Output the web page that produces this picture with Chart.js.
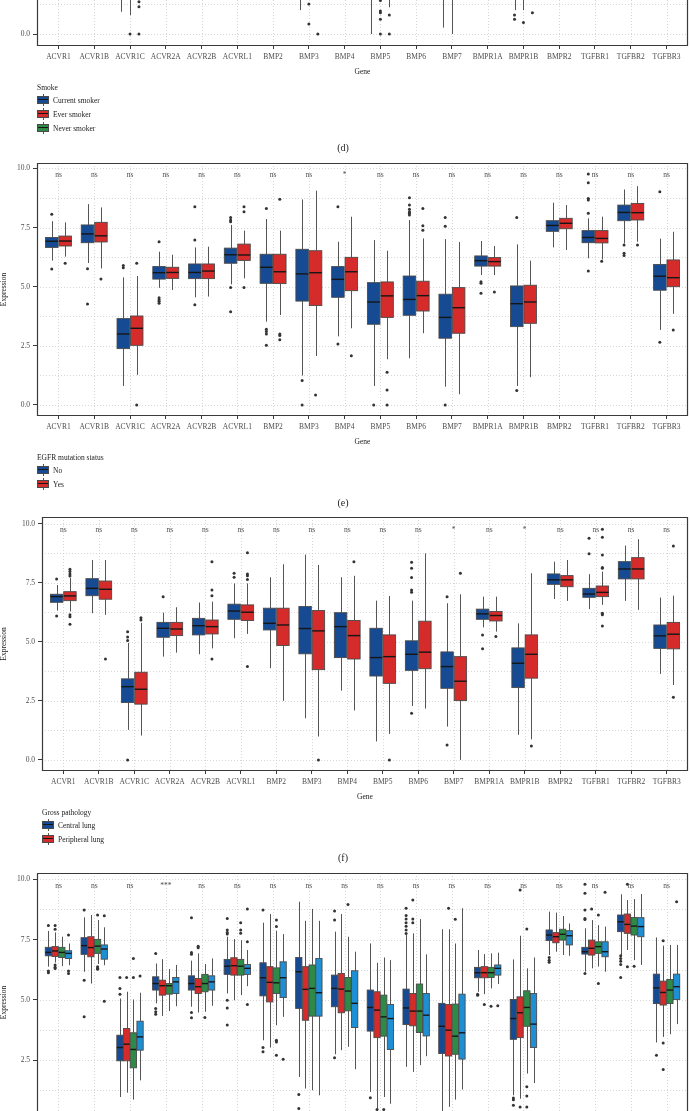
<!DOCTYPE html>
<html>
<head>
<meta charset="utf-8">
<script src="https://cdn.jsdelivr.net/npm/chart.js@4.4.0/dist/chart.umd.min.js"></script>
<style>
  html, body { margin: 0; padding: 0; background: #fff; overflow: hidden; }
  body { width: 690px; height: 1111px; position: relative; font-family: "Liberation Serif", "Times New Roman", serif; color: #222; }
  canvas { position: absolute; left: 0; }
  .txt { position: absolute; font-size: 7.5px; line-height: 9px; white-space: nowrap; transform: translateY(-50%); filter: grayscale(1); }
  .lab { position: absolute; font-size: 10px; line-height: 12px; transform: translate(-50%, -50%); filter: grayscale(1); }
  .key { position: absolute; width: 12px; height: 12px; transform: translateY(-50%); }
  .key .wh { position: absolute; left: 5.5px; top: 0; width: 1px; height: 12px; background: #555; }
  .key .bx { position: absolute; left: 0; top: 2px; width: 10px; height: 6px; border: 1px solid #4a4a4a; }
  .key .md { position: absolute; left: 1px; top: 5px; width: 10px; height: 1.4px; background: #161616; }
</style>
</head>
<body>
<canvas id="panelD" width="690" height="87" style="top:-10px"></canvas>
<canvas id="panelE" width="690" height="294" style="top:153px"></canvas>
<canvas id="panelF" width="690" height="295" style="top:507px"></canvas>
<canvas id="panelG" width="690" height="300" style="top:863px"></canvas>
<script>
const genes = ["ACVR1", "ACVR1B", "ACVR1C", "ACVR2A", "ACVR2B", "ACVRL1", "BMP2", "BMP3", "BMP4",
  "BMP5", "BMP6", "BMP7", "BMPR1A", "BMPR1B", "BMPR2", "TGFBR1", "TGFBR2", "TGFBR3"];
const yTickValues = [0, 2.5, 5, 7.5, 10];
const yMinorValues = [1.25, 3.75, 6.25, 8.75];

// (d) smoke - only the bottom of this panel is inside the picture
const dCurrentLow = [null, null, 0.94, null, null, null, null, 1.01, null, 0.0, null, 0.27, null, 1.01, null, null, null, null];
const dEverLow = [null, null, 0.8, null, null, null, null, null, null, null, null, 0.0, null, 1.01, null, null, null, null];
const dNeverLow = [null, null, null, null, null, null, null, null, null, 1.13, null, null, null, null, null, null, null, null];
const dCurrentOut = [[], [], [], [], [], [], [], [], [], [], [], [], [], [0.8, 0.62], [], [], [], []];
const dEverOut = [[], [], [0.0], [], [], [], [], [1.27, 0.42], [], [1.42, 0.97, 0.9, 0.62, 0.0], [], [], [], [0.49], [], [], [], []];
const dNeverOut = [[], [], [1.36, 1.15, 0.0], [], [], [], [], [0.0], [], [0.8, 0.0], [], [], [], [0.9], [], [], [], []];

// (e) EGFR mutation status: [low whisker, q1, median, q3, high whisker]
const eNo = [
  [6.1, 6.66, 6.92, 7.08, 7.77], [6.0, 6.86, 7.23, 7.61, 8.49], [0.8, 2.38, 3.0, 3.65, 5.39],
  [4.95, 5.32, 5.59, 5.85, 6.48], [4.55, 5.34, 5.6, 5.96, 6.66], [5.1, 5.99, 6.35, 6.63, 7.61],
  [3.52, 5.14, 5.82, 6.37, 7.86], [1.24, 4.39, 5.54, 6.58, 8.69], [2.9, 4.55, 5.31, 5.85, 6.9],
  [0.8, 3.41, 4.35, 5.17, 6.97], [1.97, 3.79, 4.46, 5.45, 7.82], [0.77, 2.82, 3.7, 4.68, 7.01],
  [5.49, 5.87, 6.1, 6.3, 6.93], [0.8, 3.31, 4.28, 5.03, 6.79], [6.66, 7.34, 7.59, 7.79, 8.55],
  [6.2, 6.86, 7.08, 7.37, 7.89], [6.83, 7.79, 8.14, 8.45, 9.11], [3.17, 4.85, 5.44, 5.94, 7.03]
];
const eYes = [
  [6.27, 6.72, 6.93, 7.14, 7.72], [5.77, 6.89, 7.15, 7.72, 8.35], [1.27, 2.52, 3.24, 3.76, 5.45],
  [4.86, 5.35, 5.6, 5.82, 6.35], [4.58, 5.34, 5.66, 5.96, 6.69], [5.35, 6.11, 6.34, 6.8, 7.37],
  [3.8, 5.13, 5.63, 6.37, 7.37], [2.07, 4.2, 5.59, 6.52, 9.06], [3.24, 4.83, 5.63, 6.24, 7.96],
  [1.93, 3.7, 4.61, 5.2, 6.52], [3.03, 3.97, 4.62, 5.23, 7.04], [0.45, 3.03, 4.11, 4.96, 6.89],
  [5.49, 5.87, 6.06, 6.23, 6.72], [1.17, 3.45, 4.35, 5.06, 6.1], [6.55, 7.45, 7.68, 7.89, 8.45],
  [6.15, 6.85, 7.04, 7.37, 7.96], [6.9, 7.82, 8.13, 8.52, 9.25], [3.85, 5.0, 5.38, 6.13, 7.32]
];
const eNoOut = [[8.06, 5.75], [5.76, 4.27], [5.8, 5.9], [6.9, 4.53, 4.45, 4.38, 4.3], [8.38, 6.97, 4.24],
  [7.92, 7.82, 7.75, 4.96, 3.94], [8.31, 3.2, 3.1, 3.0, 2.52], [1.03, 0.0], [8.38, 2.58], [0.0],
  [8.76, 8.45, 8.27, 8.17, 8.1, 8.03], [7.93, 7.56, 0.0], [5.21, 5.14, 4.72], [7.92, 0.61], [],
  [9.76, 9.39, 8.73, 8.66, 8.1, 5.66], [6.76, 6.41, 6.32], [9.01, 2.65]];
const eYesOut = [[5.99], [5.32], [5.99, 0.0], [], [], [8.38, 8.17, 4.96], [8.7, 3.0, 2.93, 2.75], [0.42],
  [2.08], [1.38, 0.63, 0.0], [8.31, 7.58, 7.39], [], [4.77], [], [], [6.07], [6.76], [3.17]];
const eSig = ["ns", "ns", "ns", "ns", "ns", "ns", "ns", "ns", "*", "ns", "ns", "ns", "ns", "ns", "ns", "ns", "ns", "ns"];

// (f) gross pathology
const fCentral = [
  [6.32, 6.67, 6.91, 7.01, 7.4], [6.21, 6.95, 7.26, 7.67, 8.46], [1.27, 2.43, 3.1, 3.43, 4.95],
  [4.37, 5.19, 5.57, 5.82, 6.23], [4.47, 5.29, 5.68, 5.99, 6.66], [5.15, 5.95, 6.3, 6.59, 7.47],
  [3.88, 5.5, 5.78, 6.42, 7.73], [1.76, 4.49, 5.56, 6.49, 8.69], [2.93, 4.33, 5.64, 6.23, 7.73],
  [0.78, 3.55, 4.33, 5.57, 6.74], [2.28, 3.79, 4.47, 5.04, 6.74], [1.41, 3.03, 3.95, 4.57, 6.63],
  [5.61, 5.95, 6.18, 6.38, 6.91], [1.06, 3.06, 4.09, 4.74, 5.78], [6.81, 7.43, 7.62, 7.87, 8.39],
  [6.38, 6.88, 7.02, 7.26, 7.86], [6.73, 7.66, 8.08, 8.39, 9.07], [3.64, 4.72, 5.25, 5.71, 6.87]
];
const fPeripheral = [
  [6.28, 6.74, 6.94, 7.12, 7.7], [6.14, 6.8, 7.22, 7.57, 8.46], [1.03, 2.36, 2.99, 3.71, 5.8],
  [4.54, 5.26, 5.54, 5.82, 6.46], [4.72, 5.33, 5.64, 5.92, 6.7], [5.33, 5.9, 6.25, 6.56, 7.47],
  [2.5, 4.84, 5.71, 6.42, 8.28], [0.99, 3.82, 5.46, 6.32, 8.25], [2.09, 4.27, 5.26, 5.9, 7.79],
  [1.1, 3.24, 4.37, 5.29, 6.94], [2.17, 3.86, 4.56, 5.87, 8.74], [0.0, 2.51, 3.33, 4.37, 7.01],
  [5.43, 5.88, 6.11, 6.28, 6.91], [0.87, 3.46, 4.47, 5.29, 7.9], [6.73, 7.33, 7.62, 7.8, 8.46],
  [6.56, 6.91, 7.09, 7.36, 7.97], [6.35, 7.66, 8.08, 8.56, 9.34], [3.17, 4.7, 5.32, 5.82, 6.95]
];
const fCentralOut = [[7.66, 6.09], [], [5.42, 5.2, 5.05, 0.0], [6.91], [], [7.9, 7.73], [], [], [], [],
  [8.36, 8.11, 7.72, 7.19, 7.09, 1.97], [6.91, 0.63], [5.29, 4.7], [], [], [9.38, 8.72], [], []];
const fPeripheralOut = [[8.07, 7.97, 7.87, 7.78, 6.14, 6.06, 5.74], [4.27], [6.02, 5.92], [],
  [8.39, 7.19, 6.95, 4.27], [8.77, 7.87, 7.79, 7.64, 3.95], [], [0.0], [8.39], [0.0], [], [7.9], [5.22],
  [0.59], [], [9.76, 9.42, 8.67, 8.14, 8.11, 6.21, 6.14, 5.67], [], [9.05, 2.65]];
const fSig = ["ns", "ns", "ns", "ns", "ns", "ns", "ns", "ns", "ns", "ns", "ns", "*", "ns", "*", "ns", "ns", "ns", "ns"];

// (g) four groups, legend lies below the picture
const gGroup1 = [
  [6.38, 6.83, 6.97, 7.18, 7.86], [6.17, 6.89, 7.25, 7.58, 8.42], [0.98, 2.48, 3.03, 3.54, 5.06],
  [4.86, 5.41, 5.68, 5.96, 6.51], [4.72, 5.41, 5.68, 6.0, 6.63], [5.27, 6.06, 6.4, 6.68, 7.62],
  [3.33, 5.17, 5.92, 6.54, 8.2], [1.81, 4.65, 6.17, 6.76, 9.07], [2.75, 4.72, 5.48, 6.03, 7.83],
  [1.19, 3.71, 4.69, 5.41, 7.34], [2.23, 3.98, 4.67, 5.45, 7.69], [0.3, 2.78, 3.91, 4.86, 7.93],
  [5.34, 5.92, 6.13, 6.35, 7.07], [1.05, 3.37, 4.23, 5.02, 6.68], [6.86, 7.46, 7.69, 7.9, 8.66],
  [6.17, 6.9, 7.0, 7.18, 7.97], [6.86, 7.83, 8.24, 8.52, 9.38], [3.24, 4.85, 5.5, 6.07, 7.59]
];
const gGroup2 = [
  [6.55, 6.8, 7.03, 7.21, 7.8], [5.68, 6.79, 7.17, 7.62, 8.52], [1.16, 2.48, 3.17, 3.82, 5.34],
  [4.34, 5.2, 5.59, 5.82, 6.69], [4.48, 5.27, 5.55, 5.89, 6.93], [4.99, 6.03, 6.42, 6.75, 7.52],
  [3.03, 4.92, 5.73, 6.38, 8.56], [1.33, 4.16, 5.44, 6.38, 8.28], [2.92, 4.47, 5.45, 6.1, 8.56],
  [0.05, 3.44, 4.58, 5.34, 6.54], [2.02, 3.93, 4.54, 5.27, 7.76], [0.57, 2.68, 3.75, 4.81, 7.93],
  [5.24, 5.92, 6.13, 6.38, 6.9], [0.91, 3.44, 4.47, 5.13, 7.66], [7.0, 7.37, 7.62, 7.79, 8.62],
  [6.31, 6.86, 7.14, 7.48, 8.31], [7.07, 7.76, 8.13, 8.56, 9.14], [3.47, 4.79, 5.31, 5.78, 7.25]
];
const gGroup3 = [
  [6.4, 6.76, 6.97, 7.18, 7.62], [6.49, 6.93, 7.23, 7.51, 8.31], [0.87, 2.19, 2.95, 3.64, 5.02],
  [4.54, 5.24, 5.59, 5.68, 6.28], [4.51, 5.34, 5.68, 6.06, 6.49], [5.2, 6.03, 6.4, 6.68, 7.48],
  [3.95, 5.27, 5.71, 6.33, 7.87], [1.26, 4.33, 5.48, 6.45, 8.77], [3.06, 4.55, 5.37, 5.93, 7.62],
  [0.98, 3.5, 4.3, 5.2, 6.76], [2.3, 3.65, 4.54, 5.66, 8.35], [0.87, 2.75, 3.5, 4.83, 7.34],
  [5.48, 5.93, 6.13, 6.35, 6.93], [1.95, 3.91, 4.69, 5.38, 6.31], [6.86, 7.48, 7.72, 7.93, 8.48],
  [6.38, 6.93, 7.21, 7.41, 8.1], [6.65, 7.69, 8.06, 8.42, 9.18], [3.58, 4.85, 5.41, 5.85, 7.28]
];
const gGroup4 = [
  [6.44, 6.72, 6.93, 7.04, 7.34], [6.44, 6.69, 7.11, 7.28, 8.01], [1.67, 2.92, 3.47, 4.12, 5.3],
  [4.74, 5.27, 5.75, 5.93, 6.45], [4.76, 5.41, 5.75, 6.0, 6.72], [5.57, 6.06, 6.31, 6.47, 7.07],
  [4.3, 5.1, 5.92, 6.58, 7.73], [1.05, 4.33, 5.3, 6.72, 8.28], [2.13, 3.86, 4.86, 6.21, 7.0],
  [0.7, 2.95, 4.23, 4.81, 6.65], [2.67, 3.51, 4.37, 5.27, 6.89], [1.29, 2.55, 3.64, 5.24, 8.8],
  [5.66, 6.03, 6.31, 6.45, 6.96], [1.56, 3.03, 4.0, 5.27, 6.76], [6.83, 7.28, 7.66, 7.87, 8.17],
  [6.17, 6.79, 7.0, 7.41, 8.04], [6.45, 7.62, 8.04, 8.41, 9.39], [4.0, 5.02, 5.55, 6.07, 7.28]
];
const gGroup1Out = [[8.08, 6.2, 6.13], [8.73, 5.82, 4.3], [5.93, 5.48, 5.24], [6.93, 4.65, 4.51, 4.41],
  [8.41, 6.97, 6.89, 4.48, 4.26], [8.38, 7.9, 7.8, 7.73, 4.99, 4.67, 3.96], [8.73, 3.03, 2.85], [1.08, 0.5],
  [8.69, 8.31, 2.61], [0.95], [8.8, 8.5, 8.35, 8.2, 8.05, 7.9, 7.75], [], [5.24, 5.2], [0.94, 0.87, 0.64],
  [6.76, 6.65, 6.56], [9.79, 9.42, 8.73, 8.38, 8.33, 6.1], [6.83, 6.72, 6.6, 6.47, 5.93], [2.71]];
const gGroup2Out = [[8.08, 7.93, 6.45, 6.36, 6.3], [], [5.93], [], [7.23, 7.16], [], [], [], [], [0.46],
  [9.14, 8.35, 8.2], [8.8], [4.81], [9.56, 0.57], [], [8.77], [9.79, 6.38], [7.45, 3.22, 2.12]];
const gGroup3Out = [[], [8.52, 6.38, 6.31, 6.27], [6.72, 5.93], [], [4.27], [8.2, 7.9, 7.76],
  [8.31, 8.04, 3.33, 3.26, 2.71], [], [8.96], [0.46], [], [8.34], [4.74], [7.94, 1.4, 1.02, 0.57], [],
  [8.52, 5.68], [6.4], []];
const gGroup4Out = [[7.69, 6.2, 6.1], [8.49, 4.95], [5.99], [], [], [8.77, 7.41, 4.81], [2.54], [], [], [],
  [], [], [4.76], [], [], [9.46], [], [9.07]];
const gSig = ["ns", "ns", "ns", "***", "ns", "ns", "ns", "ns", "ns", "ns", "ns", "ns", "ns", "ns", "ns", "ns", "ns", "ns"];

const colors = { blue: "#164a92", red: "#d52b2b", green: "#2e8b47", sky: "#1f8fd4" };
const serif = '"Liberation Serif", "Times New Roman", serif';
const sigLevel = 9.72;

function seg(ctx, x1, y1, x2, y2) {
  ctx.beginPath();
  ctx.moveTo(x1, y1);
  ctx.lineTo(x2, y2);
  ctx.stroke();
}

function boxPlugin(spec) {
  return {
    id: "boxes",
    beforeDatasetsDraw(chart) {
      const { ctx, chartArea: a, scales: { x, y } } = chart;
      ctx.save();
      ctx.beginPath();
      ctx.rect(a.left, a.top, a.width, a.height);
      ctx.clip();
      // dotted grid
      ctx.strokeStyle = "#cdcdcd";
      ctx.lineWidth = 0.8;
      ctx.setLineDash([1, 2]);
      yTickValues.concat(yMinorValues).forEach(v => {
        if (v < y.min || v > y.max) return;
        const py = Math.round(y.getPixelForValue(v)) + 0.5;
        seg(ctx, a.left, py, a.right, py);
      });
      genes.forEach((g, i) => {
        const px = Math.round(x.getPixelForValue(i + 1)) + 0.5;
        seg(ctx, px, a.top, px, a.bottom);
      });
      ctx.setLineDash([]);
      // boxes and whiskers
      spec.groups.forEach((grp, gi) => {
        genes.forEach((gene, i) => {
          const c = i + 1 + spec.offsets[gi];
          const m = Math.round(x.getPixelForValue(c)) + 0.5;
          ctx.strokeStyle = "#555";
          ctx.lineWidth = 1;
          if (grp.low) {
            if (grp.low[i] != null) seg(ctx, m, y.getPixelForValue(grp.low[i]), m, y.getPixelForValue(y.max));
            return;
          }
          const [lo, q1, md, q3, hi] = grp.stats[i].map(v => y.getPixelForValue(v));
          const l = x.getPixelForValue(c - spec.boxWidth / 2);
          const r = x.getPixelForValue(c + spec.boxWidth / 2);
          seg(ctx, m, lo, m, q1);
          seg(ctx, m, q3, m, hi);
          ctx.fillStyle = grp.color;
          ctx.fillRect(l, q3, r - l, q1 - q3);
          ctx.strokeStyle = "#4a4a4a";
          ctx.lineWidth = 0.9;
          ctx.strokeRect(l, q3, r - l, q1 - q3);
          ctx.strokeStyle = "#161616";
          ctx.lineWidth = 1.4;
          seg(ctx, l, md, r, md);
        });
      });
      ctx.restore();
    },
    afterDatasetsDraw(chart) {
      const { ctx, chartArea: a, scales: { x, y } } = chart;
      ctx.save();
      ctx.strokeStyle = "#3a3a3a";
      ctx.lineWidth = 1.2;
      ctx.beginPath();
      if (spec.topEdge) {
        ctx.rect(a.left + 0.5, a.top + 0.5, a.width - 1, a.height - 1);
      } else {
        ctx.moveTo(a.left + 0.5, a.top);
        ctx.lineTo(a.left + 0.5, a.bottom - 0.5);
        ctx.lineTo(a.right - 0.5, a.bottom - 0.5);
        ctx.lineTo(a.right - 0.5, a.top);
      }
      ctx.stroke();
      if (spec.sig) {
        ctx.font = "7.5px " + serif;
        ctx.fillStyle = "#4d4d4d";
        ctx.textAlign = "center";
        ctx.textBaseline = "middle";
        spec.sig.forEach((t, i) => ctx.fillText(t, x.getPixelForValue(i + 1), y.getPixelForValue(sigLevel)));
      }
      ctx.restore();
    }
  };
}

function makePanel(id, spec) {
  const datasets = spec.groups.map((grp, gi) => ({
    label: grp.name,
    data: grp.out.flatMap((list, i) => list.map(v => ({ x: i + 1 + spec.offsets[gi], y: v }))),
    pointRadius: 1.5,
    pointHoverRadius: 1.5,
    backgroundColor: "#333",
    borderWidth: 0
  }));
  const tickFont = { family: serif, size: 7.5 };
  return new Chart(document.getElementById(id), {
    type: "scatter",
    data: { datasets },
    options: {
      responsive: false,
      animation: false,
      devicePixelRatio: 1,
      layout: { padding: { top: 10, right: 2, left: 0, bottom: 0 } },
      plugins: { legend: { display: false }, tooltip: { enabled: false } },
      scales: {
        x: {
          type: "linear",
          min: 0.4,
          max: 18.6,
          afterBuildTicks: ax => { ax.ticks = genes.map((g, i) => ({ value: i + 1 })); },
          afterFit: ax => { ax.height = 31; },
          ticks: {
            callback: v => genes[Math.round(v) - 1] || "",
            autoSkip: false, maxRotation: 0, minRotation: 0, padding: 4,
            color: "#4d4d4d", font: tickFont
          },
          grid: { drawOnChartArea: false, tickLength: 3, color: "#3a3a3a" },
          border: { display: false },
          title: { display: true, text: "Gene", padding: 0, color: "#222", font: tickFont }
        },
        y: {
          min: spec.yMin,
          max: spec.yMax,
          afterBuildTicks: ax => {
            ax.ticks = yTickValues.filter(v => v >= spec.yMin && v <= spec.yMax).map(v => ({ value: v }));
          },
          afterFit: ax => { ax.width = spec.axisLeft; },
          ticks: { callback: v => v.toFixed(1), padding: 3, color: "#4d4d4d", font: tickFont },
          grid: { drawOnChartArea: false, tickLength: 4, color: "#3a3a3a" },
          border: { display: false },
          title: { display: spec.yTitle, text: "Expression", padding: 0, color: "#222", font: tickFont }
        }
      }
    },
    plugins: [boxPlugin(spec)]
  });
}

const off2 = [-0.1875, 0.1875];
const off3 = [-0.25, 0, 0.25];
const off4 = [-0.28125, -0.09375, 0.09375, 0.28125];

makePanel("panelD", {
  yMin: -0.507, yMax: 1.438, axisLeft: 37, yTitle: false, topEdge: false,
  offsets: off3, boxWidth: 0.23, sig: null,
  groups: [
    { name: "Current smoker", color: colors.blue, low: dCurrentLow, out: dCurrentOut },
    { name: "Ever smoker", color: colors.red, low: dEverLow, out: dEverOut },
    { name: "Never smoker", color: colors.green, low: dNeverLow, out: dNeverOut }
  ]
});
makePanel("panelE", {
  yMin: -0.47, yMax: 10.23, axisLeft: 37, yTitle: true, topEdge: true,
  offsets: off2, boxWidth: 0.35, sig: eSig,
  groups: [
    { name: "No", color: colors.blue, stats: eNo, out: eNoOut },
    { name: "Yes", color: colors.red, stats: eYes, out: eYesOut }
  ]
});
makePanel("panelF", {
  yMin: -0.47, yMax: 10.28, axisLeft: 42, yTitle: true, topEdge: true,
  offsets: off2, boxWidth: 0.35, sig: fSig,
  groups: [
    { name: "Central lung", color: colors.blue, stats: fCentral, out: fCentralOut },
    { name: "Peripheral lung", color: colors.red, stats: fPeripheral, out: fPeripheralOut }
  ]
});
makePanel("panelG", {
  yMin: -0.47, yMax: 10.26, axisLeft: 37, yTitle: true, topEdge: true,
  offsets: off4, boxWidth: 0.175, sig: gSig,
  groups: [
    { name: "Group 1", color: colors.blue, stats: gGroup1, out: gGroup1Out },
    { name: "Group 2", color: colors.red, stats: gGroup2, out: gGroup2Out },
    { name: "Group 3", color: colors.green, stats: gGroup3, out: gGroup3Out },
    { name: "Group 4", color: colors.sky, stats: gGroup4, out: gGroup4Out }
  ]
});

// legends and panel letters (html text)
function addText(cls, left, top, text) {
  const el = document.createElement("div");
  el.className = cls;
  el.style.left = left + "px";
  el.style.top = top + "px";
  el.textContent = text;
  document.body.appendChild(el);
  return el;
}
function addLegend(left, top, title, names, fills) {
  addText("txt", left, top, title);
  names.forEach((n, i) => {
    const cy = top + 13 + 14 * i;
    const key = document.createElement("div");
    key.className = "key";
    key.style.left = left + "px";
    key.style.top = cy + "px";
    key.innerHTML = '<div class="wh"></div><div class="bx" style="background:' + fills[i] + '"></div><div class="md"></div>';
    document.body.appendChild(key);
    addText("txt", left + 16, cy, n);
  });
}
addLegend(37, 87, "Smoke", ["Current smoker", "Ever smoker", "Never smoker"], [colors.blue, colors.red, colors.green]);
addText("lab", 343, 148, "(d)");
addLegend(37, 457, "EGFR mutation status", ["No", "Yes"], [colors.blue, colors.red]);
addText("lab", 343, 503, "(e)");
addLegend(42, 812, "Gross pathology", ["Central lung", "Peripheral lung"], [colors.blue, colors.red]);
addText("lab", 343, 858, "(f)");
</script>
</body>
</html>
